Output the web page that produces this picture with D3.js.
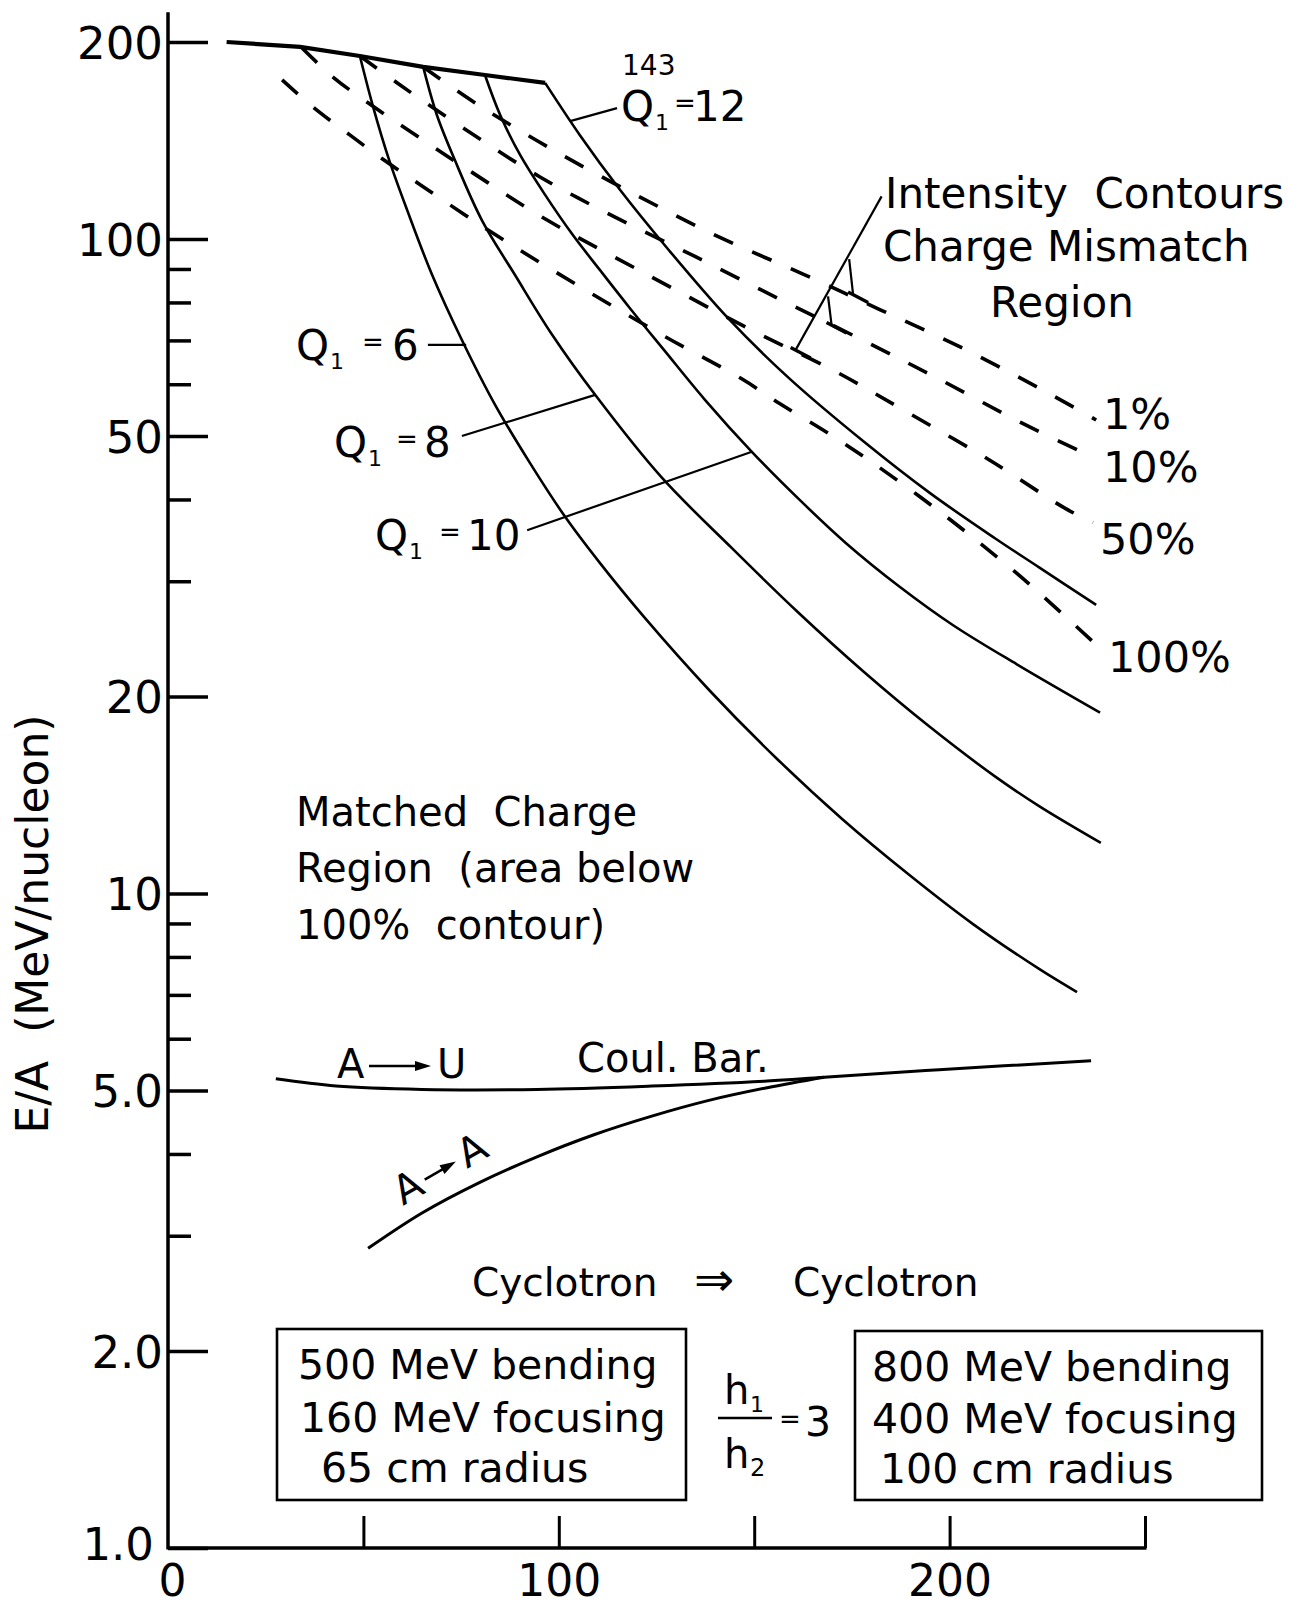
<!DOCTYPE html>
<html><head><meta charset="utf-8">
<script src="https://cdn.jsdelivr.net/npm/d3@7"></script>
<style>
body{margin:0;background:#fff}
svg{display:block;background:#fff}
text{font-family:'DejaVu Sans',sans-serif;fill:#000;white-space:pre}
</style>
</head><body>
<svg id="c" width="1289" height="1609"></svg>
<script>
// ---------------- data ----------------
const yTickValues = [1, 2, 5, 10, 20, 50, 100, 200];
const yTickLabels = ["1.0", "2.0", "5.0", "10", "20", "50", "100", "200"];
const yMinorTicks = [3, 4, 6, 7, 8, 9, 30, 40, 60, 70, 80, 90];
const xTickValues = [50, 100, 150, 200, 250];
const xLabelValues = [0, 100, 200];
const xLabelTexts = ["0", "100", "200"];

// upper envelope (solid, heavy)
const envelopeX = [15, 33.8, 49.1, 65.3, 81.1, 96.5];
const envelopeY = [200, 196.6, 190.4, 183.2, 178.1, 173.2];

// solid curves Q1 = 6, 8, 10, 12
const q6X = [49.1, 52.5, 56.6, 61.2, 67.6, 75.2, 83.7, 92.6, 101.8, 110.5, 121.8, 138.7, 155.6, 172.5, 189.4, 206.0, 222.9, 232.6];
const q6Y = [190.4, 159.1, 132.0, 110.7, 88.1, 70.1, 55.8, 45.5, 37.5, 32.0, 26.46, 20.39, 16.11, 13.0, 10.71, 8.98, 7.67, 7.07];
const q8X = [65.3, 68.8, 73.4, 80.3, 88.8, 98.3, 109.3, 126.2, 144.3, 161.2, 178.1, 195.0, 211.6, 222.9, 238.7];
const q8Y = [183.2, 154.7, 132.0, 106.9, 88.1, 71.4, 57.8, 43.3, 33.7, 26.9, 21.8, 17.96, 15.1, 13.6, 11.95];
const q10X = [81.1, 85.0, 90.1, 96.5, 103.6, 110.5, 118.2, 126.9, 137.4, 149.4, 161.7, 173.5, 187.3, 200.9, 217.2, 238.5];
const q10Y = [178.1, 154.7, 134.4, 116.8, 101.4, 89.7, 78.4, 67.7, 56.8, 47.3, 39.9, 34.3, 29.4, 25.7, 22.4, 18.9];
const q12X = [96.5, 105.4, 115.7, 127.7, 143.3, 158.9, 178.1, 195.0, 211.6, 222.9, 237.5];
const q12Y = [173.2, 144.1, 118.8, 96.9, 75.7, 61.3, 49.0, 40.9, 34.9, 31.5, 27.6];

// dashed intensity contours 1%, 10%, 50%, 100%
const c1X = [65.3, 79.8, 99.5, 120.8, 141.5, 162.5, 182.4, 202.7, 222.9, 237.5];
const c1Y = [183.2, 159.7, 135.8, 115.9, 100.4, 88.4, 77.9, 68.4, 59.2, 52.9];
const c10X = [49.1, 59.4, 75.5, 95.2, 114.4, 135.1, 156.9, 178.1, 197.3, 218.3, 235.4];
const c10Y = [190.4, 171.9, 147.8, 124.4, 108.0, 93.9, 80.7, 69.9, 61.1, 52.4, 46.8];
const c50X = [34.3, 42.2, 50.9, 59.9, 78.0, 97.0, 119.5, 148.7, 170.7, 189.1, 210.6, 229.8, 236.7];
const c50Y = [195.8, 176.8, 161.9, 148.8, 126.2, 106.9, 90.3, 72.9, 62.8, 54.4, 45.8, 38.7, 36.9];
const c100X = [29.2, 37.1, 46.6, 56.0, 65.0, 81.9, 98.3, 126.9, 146.9, 156.6, 168.9, 180.1, 198.3, 216.2, 225.2, 237.5];
const c100Y = [175.0, 159.1, 144.1, 131.1, 120.5, 103.2, 89.7, 71.1, 61.1, 56.0, 50.5, 45.6, 38.0, 31.2, 28.0, 24.0];

// Coulomb barrier curves
const auX = [27.6, 43.0, 65.0, 94.4, 123.8, 153.3, 167.9, 197.3, 236.2];
const auY = [5.21, 5.08, 5.02, 5.02, 5.08, 5.17, 5.24, 5.38, 5.55];
const aaX = [51.2, 65.0, 79.8, 94.4, 109.0, 123.8, 138.4, 153.3, 167.9];
const aaY = [2.87, 3.25, 3.62, 3.96, 4.28, 4.57, 4.83, 5.05, 5.24];

// ---------------- chart ----------------
const svg = d3.select("#c");
const x = d3.scaleLinear().domain([0, 250]).range([168, 1145]);
const y = d3.scaleLog().domain([1, 200]).range([1548, 42]);
const FONT = "'DejaVu Sans', sans-serif";

// axis lines
svg.append("line").attr("x1", x(0)).attr("x2", x(0)).attr("y1", y(1) + 1.5).attr("y2", y(222))
  .attr("stroke", "#000").attr("stroke-width", 3.5);
svg.append("line").attr("x1", x(0)).attr("x2", x(250) + 1.5).attr("y1", y(1)).attr("y2", y(1))
  .attr("stroke", "#000").attr("stroke-width", 3.5);

// y minor ticks
svg.append("g").attr("transform", `translate(${x(0)},0)`)
  .call(d3.axisLeft(y).tickValues(yMinorTicks).tickSize(-23).tickSizeOuter(0).tickFormat(() => ""))
  .call(g => g.select(".domain").remove())
  .call(g => g.selectAll("line").attr("stroke-width", 3.5));
// y major ticks + labels
svg.append("g").attr("transform", `translate(${x(0)},0)`)
  .call(d3.axisLeft(y).tickValues(yTickValues).tickSize(-40).tickSizeOuter(0).tickPadding(5)
    .tickFormat(d => yTickLabels[yTickValues.indexOf(d)]))
  .call(g => g.select(".domain").remove())
  .call(g => g.selectAll("line").attr("stroke-width", 3.5))
  .call(g => g.selectAll("text").attr("font-family", FONT).attr("font-size", 45).attr("dy", "0.36em")
    .filter(d => d === 1).attr("dx", -9).attr("dy", "0.26em"))
  .attr("font-family", null).attr("font-size", null);

// x ticks (pointing up)
svg.append("g").attr("transform", `translate(0,${y(1)})`)
  .call(d3.axisBottom(x).tickValues(xTickValues).tickSize(-32).tickSizeOuter(0).tickFormat(() => ""))
  .call(g => g.select(".domain").remove())
  .call(g => g.selectAll("line").attr("stroke-width", 3));
// x labels
svg.append("g").attr("transform", `translate(0,${y(1)})`)
  .call(d3.axisBottom(x).tickValues(xLabelValues).tickSize(0).tickPadding(17)
    .tickFormat(d => xLabelTexts[xLabelValues.indexOf(d)]))
  .call(g => g.select(".domain").remove())
  .call(g => g.selectAll("text").attr("font-family", FONT).attr("font-size", 44)
    .filter(d => d === 0).attr("dx", 4))
  .attr("font-family", null).attr("font-size", null);

// y axis title
svg.append("text").attr("transform", "translate(48,924) rotate(-90)")
  .attr("text-anchor", "middle").attr("font-size", 44).text("E/A  (MeV/nucleon)");

// curves
const lineSmooth = d3.line().x(d => x(d[0])).y(d => y(d[1])).curve(d3.curveCatmullRom.alpha(0.5));
const lineLin = d3.line().x(d => x(d[0])).y(d => y(d[1]));
const path = (xs, ys, gen, sw, dash) => svg.append("path")
  .attr("d", gen(d3.zip(xs, ys))).attr("fill", "none").attr("stroke", "#000")
  .attr("stroke-width", sw).attr("stroke-dasharray", dash || null)
  .attr("stroke-linecap", "butt").attr("stroke-linejoin", "round");

path(envelopeX, envelopeY, lineLin, 4.2);
[[q6X, q6Y], [q8X, q8Y], [q10X, q10Y], [q12X, q12Y]].forEach(([a, b]) => path(a, b, lineSmooth, 2.6));
[[c1X, c1Y], [c10X, c10Y], [c50X, c50Y], [c100X, c100Y]].forEach(([a, b]) => path(a, b, lineSmooth, 3.6, "21,21"));
path(auX, auY, lineSmooth, 3);
path(aaX, aaY, lineSmooth, 3);

// leader lines (data coordinates)
const leaders = [
  [[102.9, 151.4], [114.9, 158.5]],   // Q1=12
  [[66.5, 68.9], [76.3, 68.9]],       // Q1=6
  [[75.2, 50.0], [109.3, 57.8]],      // Q1=8
  [[91.9, 35.9], [149.4, 47.3]],      // Q1=10
  [[182.6, 116.2], [160.6, 67.7]],    // Intensity contours main
  [[174.3, 93.2], [175.3, 82.3]],     // branch to 1%
  [[168.9, 81.7], [169.8, 73.9]]      // branch to 10%
];
leaders.forEach(l => svg.append("path").attr("d", lineLin(l)).attr("fill", "none")
  .attr("stroke", "#000").attr("stroke-width", 2.2));
// small crossbars at the pointer ends
[leaders[5][1], leaders[6][1], leaders[4][1]].forEach(p => {
  const px = x(p[0]), py = y(p[1]);
  svg.append("line").attr("x1", px - 5).attr("y1", py - 2.5).attr("x2", px + 15).attr("y2", py + 8)
    .attr("stroke", "#000").attr("stroke-width", 3.4);
});

// text helper
function txt(t, px, py, fs, anchor) {
  return svg.append("text").attr("x", px).attr("y", py).attr("font-size", fs)
    .attr("text-anchor", anchor || "start").text(t);
}
// Q labels: [left, baseline, eqOffset, numOffset, number]
const qLabels = [[296, 360, 69, 96, "6"], [334, 457, 65, 90, "8"], [375, 550, 67, 92, "10"], [621, 121, 56, 72, "12"]];
qLabels.forEach(([lx, by, eo, no, n]) => {
  txt("Q", lx, by, 42);
  txt("1", lx + 34, by + 9, 22);
  txt("=", lx + eo - 3, by - 9, 26);
  txt(n, lx + no, by, 42);
});
svg.append("text").attr("x", 622).attr("y", 75).attr("font-size", 28)
  .attr("font-family", "'Liberation Mono','DejaVu Sans Mono',monospace").text("143");

txt("Intensity  Contours", 885, 208, 42);
txt("Charge Mismatch", 883, 261, 42);
txt("Region", 990, 317, 42);
txt("1%", 1103, 429, 43);
txt("10%", 1103, 482, 43);
txt("50%", 1100, 554, 43);
txt("100%", 1108, 672, 43);
txt("Matched  Charge", 296, 826, 40);
txt("Region  (area below", 296, 882, 40);
txt("100%  contour)", 296, 939, 40);
txt("Coul. Bar.", 577, 1072, 40);

// A -> U and A -> A
function arrowLabel(g, a, b, len) {
  g.append("text").attr("x", 0).attr("y", 0).attr("font-size", 40).text(a);
  g.append("line").attr("x1", 32).attr("x2", 32 + len - 12).attr("y1", -12).attr("y2", -12)
    .attr("stroke", "#000").attr("stroke-width", 2.6);
  g.append("path").attr("d", `M${32 + len - 16},-17 L${32 + len},-12 L${32 + len - 16},-7 Z`).attr("fill", "#000");
  g.append("text").attr("x", 32 + len + 6).attr("y", 0).attr("font-size", 40).text(b);
}
arrowLabel(svg.append("g").attr("transform", "translate(337,1078)"), "A", "U", 62);
arrowLabel(svg.append("g").attr("transform", "translate(403,1206) rotate(-30)"), "A", "A", 36);

// Cyclotron line
txt("Cyclotron", 472, 1296, 39);
txt("\u21D2", 714, 1296, 48, "middle");
txt("Cyclotron", 793, 1296, 39);

// boxes
svg.append("rect").attr("x", 277).attr("y", 1329).attr("width", 409).attr("height", 171)
  .attr("fill", "none").attr("stroke", "#000").attr("stroke-width", 2.6);
svg.append("rect").attr("x", 855).attr("y", 1331).attr("width", 407).attr("height", 169)
  .attr("fill", "none").attr("stroke", "#000").attr("stroke-width", 2.6);
txt("500 MeV bending", 298, 1379, 41);
txt("160 MeV focusing", 300, 1432, 41);
txt("65 cm radius", 321, 1482, 41);
txt("800 MeV bending", 872, 1381, 41);
txt("400 MeV focusing", 872, 1433, 41);
txt("100 cm radius", 880, 1483, 41);

// h1/h2 = 3
txt("h", 724, 1404, 40);
txt("1", 750, 1412, 22);
svg.append("line").attr("x1", 718).attr("x2", 772).attr("y1", 1418).attr("y2", 1418)
  .attr("stroke", "#000").attr("stroke-width", 2.6);
txt("h", 724, 1468, 40);
txt("2", 750, 1476, 24);
txt("=", 779, 1428, 26);
txt("3", 805, 1436, 41);
</script>
</body></html>
